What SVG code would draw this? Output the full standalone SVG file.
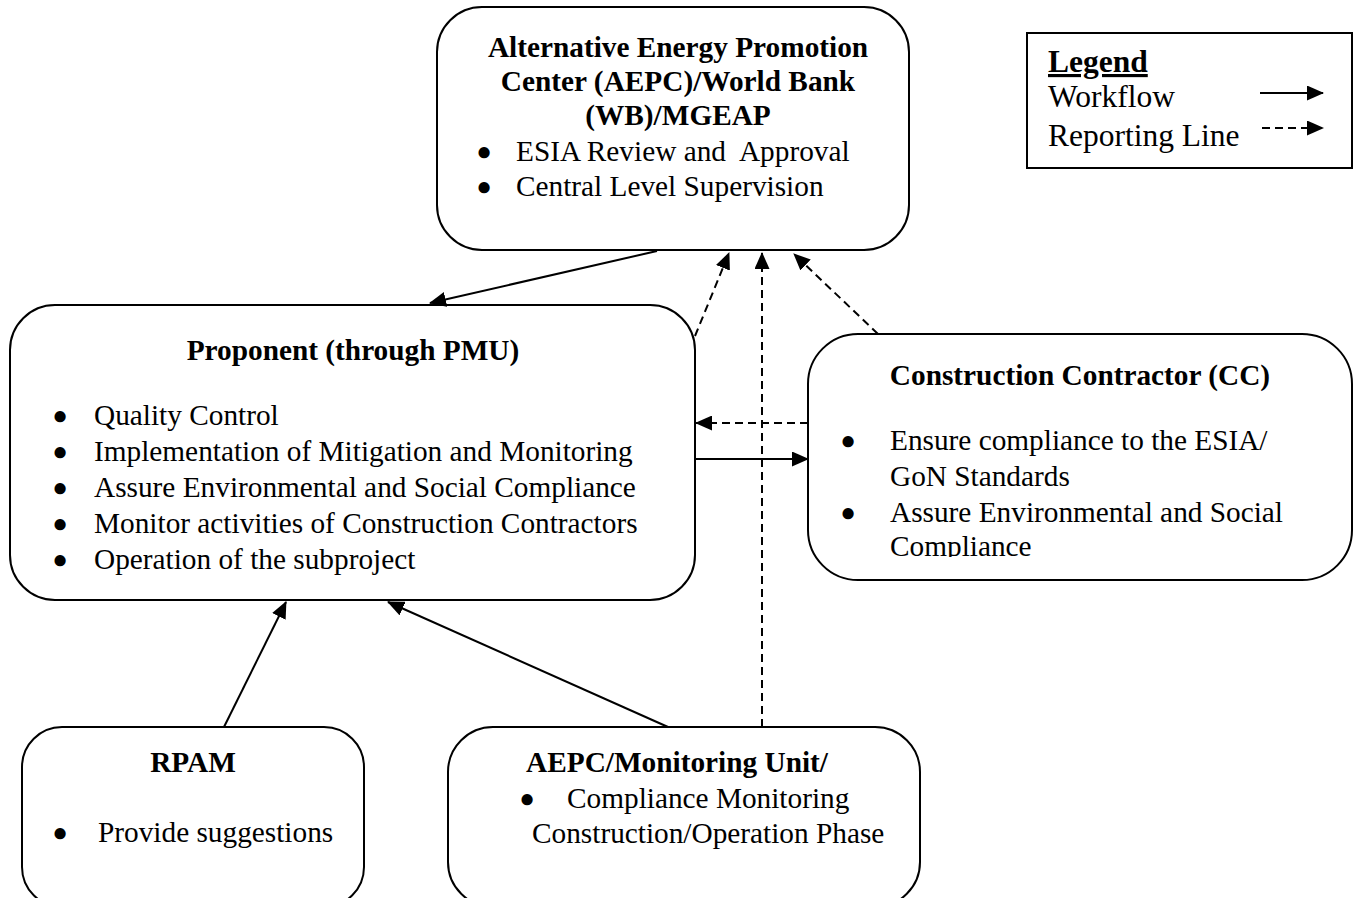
<svg xmlns="http://www.w3.org/2000/svg" width="1354" height="898" viewBox="0 0 1354 898">
<style>
.box{fill:#fff;stroke:#000;stroke-width:2}
.t{font-family:"Liberation Serif","Times New Roman",serif;font-size:29.3px;fill:#000}
.bu{font-family:"Liberation Sans","DejaVu Sans",sans-serif;font-size:26px;fill:#000;text-anchor:middle}
.b{font-weight:bold}
.lg{font-family:"Liberation Serif","Times New Roman",serif;font-size:31.5px;fill:#000}
.c{text-anchor:middle}
.ln{stroke:#000;stroke-width:2;fill:none}
.d{stroke-dasharray:8 5}
</style>
<defs>
<marker id="ah" markerUnits="userSpaceOnUse" markerWidth="17" markerHeight="15" refX="16" refY="7.5" orient="auto">
<path d="M0,0 L17,7.5 L0,15 z" fill="#000"/>
</marker>
<clipPath id="ccclip"><rect x="808" y="333" width="546" height="224"/></clipPath>
</defs>
<rect width="1354" height="898" fill="#fff"/>

<g id="aepc-wb">
<rect class="box" x="437" y="7" width="472" height="243" rx="45"/>
<text class="t b c" x="678" y="57">Alternative Energy Promotion</text>
<text class="t b c" x="678" y="91">Center (AEPC)/World Bank</text>
<text class="t b c" x="678" y="125">(WB)/MGEAP</text>
<text class="bu" x="484" y="160">●</text>
<text class="t" x="516" y="161" xml:space="preserve">ESIA Review and  Approval</text>
<text class="bu" x="484" y="195">●</text>
<text class="t" x="516" y="196">Central Level Supervision</text>
</g>

<g id="legend">
<rect x="1027" y="33" width="325" height="135" fill="#fff" stroke="#000" stroke-width="2"/>
<text class="lg b" x="1048" y="72" text-decoration="underline">Legend</text>
<text class="lg" x="1048" y="107">Workflow</text>
<text class="lg" x="1048" y="146">Reporting Line</text>
<line class="ln" x1="1260" y1="93" x2="1323" y2="93" marker-end="url(#ah)"/>
<line class="ln d" x1="1262" y1="128" x2="1323" y2="128" marker-end="url(#ah)"/>
</g>

<g id="proponent">
<rect class="box" x="10" y="305" width="685" height="295" rx="45"/>
<text class="t b c" x="353" y="360">Proponent (through PMU)</text>
<text class="bu" x="60" y="424">●</text>
<text class="t" x="94" y="425">Quality Control</text>
<text class="bu" x="60" y="460">●</text>
<text class="t" x="94" y="461">Implementation of Mitigation and Monitoring</text>
<text class="bu" x="60" y="496">●</text>
<text class="t" x="94" y="497">Assure Environmental and Social Compliance</text>
<text class="bu" x="60" y="532">●</text>
<text class="t" x="94" y="533">Monitor activities of Construction Contractors</text>
<text class="bu" x="60" y="568">●</text>
<text class="t" x="94" y="569">Operation of the subproject</text>
</g>

<g id="contractor">
<rect class="box" x="808" y="334" width="544" height="246" rx="50"/>
<text class="t b c" x="1080" y="385">Construction Contractor (CC)</text>
<text class="bu" x="848" y="449">●</text>
<text class="t" x="890" y="450">Ensure compliance to the ESIA/</text>
<text class="t" x="890" y="486">GoN Standards</text>
<text class="bu" x="848" y="521">●</text>
<text class="t" x="890" y="522">Assure Environmental and Social</text>
<text class="t" x="890" y="556" clip-path="url(#ccclip)">Compliance</text>
</g>

<g id="rpam">
<rect class="box" x="22" y="727" width="342" height="180" rx="40"/>
<text class="t b c" x="193" y="772">RPAM</text>
<text class="bu" x="60" y="841">●</text>
<text class="t" x="98" y="842">Provide suggestions</text>
</g>

<g id="monitoring">
<rect class="box" x="448" y="727" width="472" height="180" rx="45"/>
<text class="t b c" x="677" y="772">AEPC/Monitoring Unit/</text>
<text class="bu" x="527" y="807">●</text>
<text class="t" x="567" y="808">Compliance Monitoring</text>
<text class="t" x="532" y="843">Construction/Operation Phase</text>
</g>

<g id="connectors">
<line class="ln" x1="657" y1="251" x2="430" y2="303" marker-end="url(#ah)"/>
<line class="ln d" x1="695" y1="336" x2="729" y2="253" marker-end="url(#ah)"/>
<line class="ln d" x1="762" y1="727" x2="762" y2="253" marker-end="url(#ah)"/>
<line class="ln d" x1="878" y1="334" x2="794" y2="254" marker-end="url(#ah)"/>
<line class="ln d" x1="808" y1="423" x2="696" y2="423" marker-end="url(#ah)"/>
<line class="ln" x1="696" y1="459" x2="808" y2="459" marker-end="url(#ah)"/>
<line class="ln" x1="224" y1="727" x2="286" y2="602" marker-end="url(#ah)"/>
<line class="ln" x1="668" y1="727" x2="388" y2="602" marker-end="url(#ah)"/>
</g>
</svg>
